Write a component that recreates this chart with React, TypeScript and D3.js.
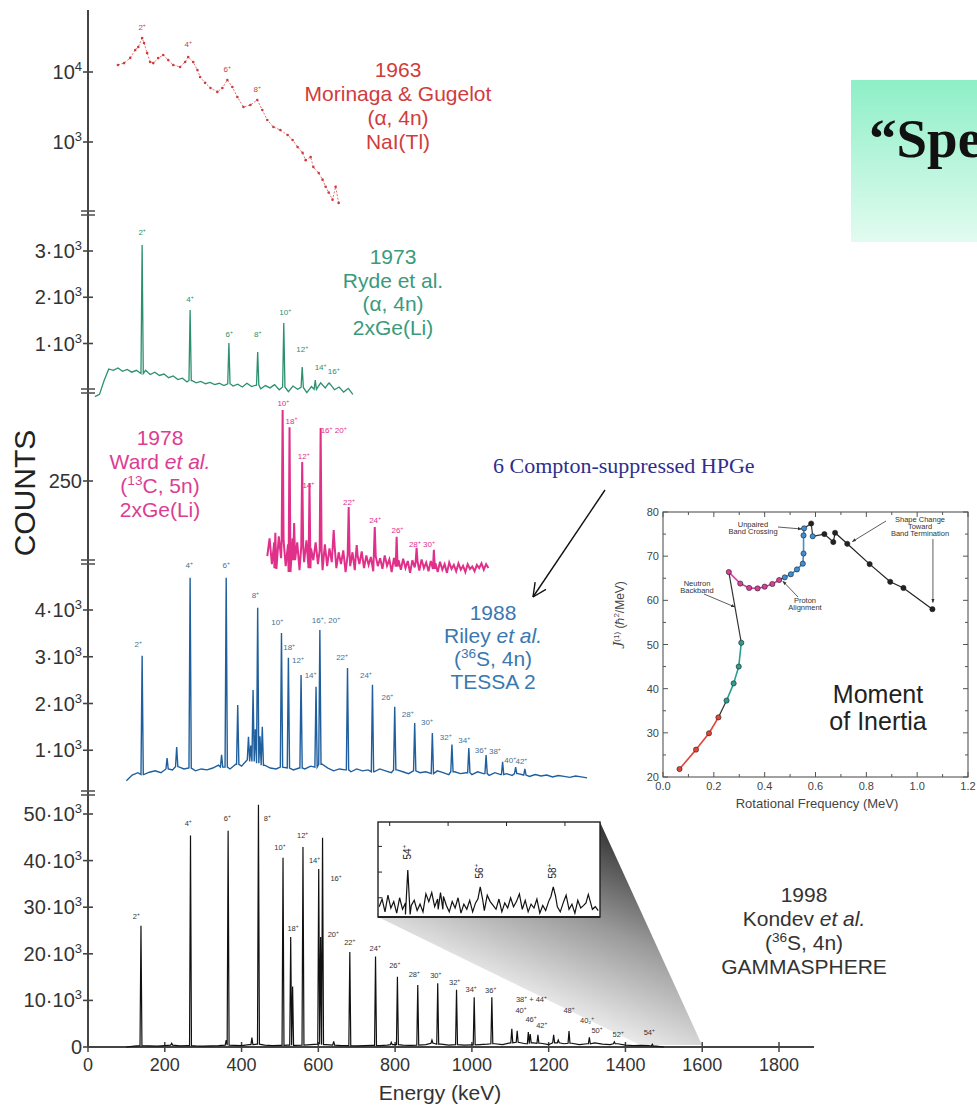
import React, { useRef, useEffect } from "react";
import * as d3 from "d3";

const WIDTH = 977;
const HEIGHT = 1107;
const SANS = "Liberation Sans, Arial, Helvetica, sans-serif";
const SERIF = "Liberation Serif, Times New Roman, serif";

// shared energy axis (keV)
const energyTicks = [0, 200, 400, 600, 800, 1000, 1200, 1400, 1600, 1800];
const breakMarks = [213, 391, 562, 793];

// 1963 Morinaga & Gugelot, NaI(Tl) - log counts
const mgEnergy = [78, 94, 110, 123, 131, 141, 146, 154, 162, 170, 183, 196, 209, 222, 240, 253, 261, 274, 285, 292, 305, 319, 337, 350, 363, 376, 389, 405, 423, 441, 454, 467, 483, 501, 520, 533, 546, 559, 567, 580, 587, 601, 611, 619, 627, 637, 645, 653];
const mgCounts = [12600, 13400, 15900, 20600, 22800, 30600, 25900, 18700, 13900, 13400, 15800, 17500, 14800, 12600, 11800, 13900, 16400, 13900, 10700, 8500, 7000, 5900, 5200, 5900, 7700, 6100, 4400, 3160, 3380, 3980, 2870, 2060, 1640, 1480, 1260, 1070, 850, 700, 550, 610, 440, 360, 290, 230, 190, 150, 230, 135];
const mgTicks = [1000, 10000];
const mgTickLabels = ["10^3", "10^4"];
const mgLabels = ["2^+", "4^+", "6^+", "8^+"];
const mgLabelE = [141, 261, 363, 441];
const mgLabelC = [39800, 22700, 10000, 5180];

// 1973 Ryde et al., 2xGe(Li)
const rydeStart = 18;
const rydeStep = 12;
const rydeBase = [-150, -100, 200, 450, 420, 470, 400, 440, 380, 420,
  350, 420, 330, 380, 310, 340, 260, 300, 220, 250,
  170, 200, 150, 180, 130, 160, 110, 140, 90, 130,
  80, 120, 60, 140, 70, 100, 20, 90, 40, 110,
  0, 60, -40, 80, 10, 50, -60, 70, 10, 150,
  40, 120, 0, 60, -50, 30, -100];
const rydePeakE = [141, 266, 367, 442, 510, 558, 592, 628];
const rydePeakC = [3130, 1724, 1011, 816, 1443, 492, 211, 146];
const rydeTicks = [1000, 2000, 3000];
const rydeTickLabels = ["1·10^3", "2·10^3", "3·10^3"];
const rydeLabels = ["2^+", "4^+", "6^+", "8^+", "10^+", "12^+", "14^+", "16^+"];
const rydeLabelE = [141, 266, 368, 442, 514, 558, 606, 640];
const rydeLabelC = [3346, 1897, 1140, 1140, 1616, 816, 427, 340];

// 1978 Ward et al., 2xGe(Li)
const wardStart = 467;
const wardStep = 6;
const wardBase = [60, 105, 40, 95, 30, 110, 55, 100, 35, 90,
  20, 105, 50, 95, 25, 85, 45, 100, 30, 80,
  50, 95, 40, 75, 25, 90, 35, 80, 45, 85,
  30, 70, 40, 75, 20, 65, 35, 70, 25, 60,
  40, 72, 30, 62, 38, 58, 22, 60, 35, 55,
  28, 62, 36, 52, 20, 56, 34, 50, 26, 54,
  30, 48, 18, 50, 32, 46, 24, 52, 30, 44,
  22, 48, 28, 42, 20, 46, 26, 40, 18, 44,
  28, 38, 22, 42, 26, 36, 20, 40, 28, 34,
  22, 38, 30, 42, 26, 40, 30];
const wardPeakE = [488, 507, 525, 537, 558, 577, 606, 640, 679, 700, 747, 804, 856, 901];
const wardPeakC = [119, 429, 386, 144, 298, 245, 384, 126, 184, 88, 134, 109, 81, 76];
const wardTicks = [250];
const wardLabels = ["10^+", "18^+", "12^+", "14^+", "16^+ 20^+", "22^+", "24^+", "26^+", "28^+ 30^+"];
const wardLabelE = [509, 530, 562, 574, 640, 680, 748, 806, 870];
const wardLabelC = [440, 395, 305, 232, 371, 189, 144, 119, 83];

// 1988 Riley et al., TESSA 2
const rileyStart = 100;
const rileyStep = 15;
const rileyBase = [350, 470, 520, 480, 530, 560, 520, 600, 580, 650,
  600, 620, 560, 600, 580, 620, 680, 640, 600, 700,
  660, 800, 760, 720, 680, 620, 600, 640, 620, 580,
  620, 600, 660, 640, 700, 620, 560, 600, 580, 540,
  600, 560, 580, 540, 600, 560, 520, 580, 540, 500,
  560, 520, 540, 500, 560, 520, 480, 540, 500, 520,
  480, 540, 500, 460, 520, 480, 500, 460, 500, 470,
  440, 480, 450, 470, 430, 460, 440, 420, 450, 430,
  410];
const rileyPeakE = [141, 206, 231, 266, 348, 360, 390, 418, 424, 430, 436, 442, 448, 454, 504, 522, 555, 594, 604, 676, 741, 799, 851, 897, 948, 992, 1037, 1080, 1114, 1138];
const rileyPeakC = [3020, 830, 1070, 4690, 900, 4690, 1970, 1290, 1100, 2290, 1450, 4050, 1300, 1500, 3510, 2980, 2610, 2360, 3570, 2760, 2400, 1930, 1580, 1370, 1120, 1050, 900, 750, 640, 600];
const rileyTicks = [1000, 2000, 3000, 4000];
const rileyTickLabels = ["1·10^3", "2·10^3", "3·10^3", "4·10^3"];
const rileyLabels = ["2^+", "4^+", "6^+", "8^+", "10^+", "18^+", "12^+", "14^+", "16^+, 20^+", "22^+", "24^+", "26^+", "28^+", "30^+", "32^+", "34^+", "36^+", "38^+", "40^+", "42^+"];
const rileyLabelE = [131, 264, 360, 436, 493, 524, 547, 580, 620, 662, 724, 780, 833, 883, 932, 980, 1023, 1060, 1100, 1129];
const rileyLabelC = [3210, 4900, 4900, 4260, 3680, 3150, 2870, 2550, 3720, 2930, 2550, 2070, 1710, 1540, 1220, 1150, 940, 920, 730, 700];

// 1998 Kondev et al., GAMMASPHERE
const kondevStart = 100;
const kondevStep = 20;
const kondevBase = [0, 200, 300, 250, 200, 300, 400, 250, 300, 250,
  200, 250, 300, 400, 350, 300, 500, 600, 400, 300,
  350, 400, 350, 400, 500, 600, 500, 400, 300, 300,
  250, 300, 350, 300, 400, 500, 400, 350, 400, 500,
  800, 600, 400, 500, 400, 450, 500, 600, 700, 500,
  900, 1000, 700, 900, 800, 500, 900, 700, 800, 500,
  700, 900, 600, 500, 700, 400, 300, 350, 300, 200,
  0];
const kondevPeakE = [138, 218, 267, 360, 365, 427, 444, 508, 528, 533, 560, 601, 606, 611, 640, 682, 749, 790, 806, 859, 896, 911, 960, 1006, 1052, 1104, 1118, 1147, 1152, 1172, 1213, 1225, 1253, 1306, 1371, 1470];
const kondevPeakC = [26000, 800, 45400, 1500, 46400, 2000, 52000, 40600, 23600, 13000, 42900, 38200, 23600, 44900, 1200, 20400, 19400, 1000, 15100, 13300, 1500, 13700, 12300, 10700, 10700, 3900, 3500, 3200, 2800, 2600, 2600, 1500, 3400, 2100, 1100, 600];
const kondevTicks = [0, 10000, 20000, 30000, 40000, 50000];
const kondevTickLabels = ["0", "10·10^3", "20·10^3", "30·10^3", "40·10^3", "50·10^3"];
const kondevLabels = ["2^+", "4^+", "6^+", "8^+", "10^+", "12^+", "14^+", "16^+", "18^+", "20^+", "22^+", "24^+", "26^+", "28^+", "30^+", "32^+", "34^+", "36^+", "38^+ + 44^+", "40^+", "46^+", "42^+", "48^+", "40₂^+", "50^+", "52^+", "54^+"];
const kondevLabelE = [126, 261, 363, 467, 500, 559, 590, 646, 534, 639, 682, 748, 799, 850, 906, 955, 998, 1049, 1155, 1128, 1154, 1182, 1253, 1300, 1326, 1381, 1462];
const kondevLabelC = [27400, 47500, 48400, 48600, 42300, 44900, 39500, 35600, 25000, 23600, 21800, 20700, 16900, 15100, 14700, 13200, 11800, 11500, 9600, 7200, 5300, 4000, 7300, 5100, 3000, 2200, 2600];

// inset: high-spin tail
const insetStart = 1382;
const insetStep = 5;
const insetBase = [40, 70, 20, 85, 35, 60, 15, 75, 30, 55,
  10, 45, 65, 25, 50, 20, 90, 60, 95, 40,
  70, 30, 80, 45, 20, 60, 35, 75, 15, 50,
  30, 65, 20, 55, 40, 70, 25, 85, 60, 45,
  30, 70, 20, 55, 35, 75, 40, 60, 90, 30,
  65, 20, 50, 35, 70, 15, 45, 25, 60, 30,
  80, 40, 20, 55, 85, 30, 50, 15, 65, 35,
  45, 20, 55, 30, 40, 25];
const insetPeakE = [1431, 1487, 1555, 1680, 1740];
const insetPeakC = [183, 95, 117, 117, 88];
const insetTicksX = [1400, 1500, 1600, 1700];
const insetTicksY = [75, 175, 275];
const insetLabels = ["54^+", "56^+", "58^+"];
const insetLabelE = [1431, 1555, 1680];
const insetLabelC = [253, 179, 179];

// moment of inertia
const moiFreq = [0.065, 0.13, 0.181, 0.218, 0.25, 0.278, 0.298, 0.308, 0.259, 0.304, 0.339, 0.372, 0.4, 0.43, 0.457, 0.479, 0.503, 0.527, 0.55, 0.553, 0.553, 0.555, 0.583, 0.589, 0.635, 0.67, 0.677, 0.725, 0.813, 0.894, 0.946, 1.06];
const moiJ = [21.8, 26.2, 29.9, 33.5, 37.3, 41.2, 45.0, 50.4, 66.4, 63.8, 62.8, 62.7, 63.1, 63.7, 64.6, 65.2, 65.9, 67.0, 68.3, 70.6, 74.7, 76.3, 77.4, 74.5, 75.0, 73.2, 75.3, 72.8, 68.2, 64.2, 62.8, 58.0];
const moiBand = ["r", "r", "r", "r", "t", "t", "t", "t", "m", "m", "m", "m", "m", "m", "m", "b", "b", "b", "b", "b", "b", "b", "k", "b", "k", "k", "k", "k", "k", "k", "k", "k"];
const moiXTicks = [0, 0.2, 0.4, 0.6, 0.8, 1.0, 1.2];
const moiYTicks = [20, 30, 40, 50, 60, 70, 80];

const bandColor: any = { r: "#e0453a", t: "#2a9d8f", m: "#d6409a", b: "#3b8fd6", k: "#222" };

function buildSpectrum(start: number, step: number, base: number[], peakE: number[], peakC: number[], hw: number) {
  const pts: [number, number][] = [];
  base.forEach((b, i) => {
    const e = start + i * step;
    if (peakE.some((p) => Math.abs(p - e) < hw)) return;
    pts.push([e, b]);
  });
  peakE.forEach((p, i) => {
    const idx = Math.max(0, Math.min(base.length - 1, Math.round((p - start) / step)));
    const b = base[idx];
    pts.push([p - hw, b], [p, peakC[i]], [p + hw, b]);
  });
  return pts.sort((a, b) => a[0] - b[0]);
}

// ^{..} or ^x = superscript, _{..} = italic
function rich(t: any, str: string, fs: number) {
  const re = /\^\{([^}]*)\}|\^(.)|_\{([^}]*)\}/g;
  let last = 0;
  let up = false;
  let m: any;
  const plain = (s: string, italic = false) => {
    const ts = t.append("tspan").text(s);
    if (italic) ts.attr("font-style", "italic");
    if (up) {
      ts.attr("dy", fs * 0.4);
      up = false;
    }
  };
  while ((m = re.exec(str)) !== null) {
    if (m.index > last) plain(str.slice(last, m.index));
    if (m[3] !== undefined) plain(m[3], true);
    else {
      const s = m[1] !== undefined ? m[1] : m[2];
      const ts = t.append("tspan").text(s).attr("font-size", fs * 0.65);
      if (!up) ts.attr("dy", -fs * 0.4);
      up = true;
    }
    last = re.lastIndex;
  }
  if (last < str.length) plain(str.slice(last));
}

export default function App() {
  const svgRef = useRef<SVGSVGElement>(null);

  useEffect(() => {
    const svg = d3.select(svgRef.current);
    svg.selectAll("*").remove();

    const xE = d3.scaleLinear().domain([0, 1800]).range([88, 779]);
    const yMg = d3.scaleLog().domain([1000, 10000]).range([142, 72]);
    const yRyde = d3.scaleLinear().domain([-200, 3000]).range([399, 251]);
    const yWard = d3.scaleLinear().domain([0, 250]).range([580, 481]);
    const yRiley = d3.scaleLinear().domain([0, 4000]).range([797, 610]);
    const yKondev = d3.scaleLinear().domain([0, 50000]).range([1047, 814]);

    const defs = svg.append("defs");
    const grad = defs.append("linearGradient").attr("id", "wedge")
      .attr("gradientUnits", "userSpaceOnUse")
      .attr("x1", 620).attr("y1", 840).attr("x2", 545).attr("y2", 1020);
    grad.append("stop").attr("offset", 0).attr("stop-color", "#3a3a3a");
    grad.append("stop").attr("offset", 0.45).attr("stop-color", "#9a9a9a");
    grad.append("stop").attr("offset", 1).attr("stop-color", "#f6f6f6");
    const mint = defs.append("linearGradient").attr("id", "mint")
      .attr("x1", 0).attr("y1", 0).attr("x2", 0).attr("y2", 1);
    mint.append("stop").attr("offset", 0).attr("stop-color", "#8eefc7");
    mint.append("stop").attr("offset", 1).attr("stop-color", "#e2fbf0");
    defs.append("marker").attr("id", "tip").attr("viewBox", "0 0 10 10")
      .attr("refX", 9).attr("refY", 5).attr("markerWidth", 5).attr("markerHeight", 5)
      .attr("orient", "auto")
      .append("path").attr("d", "M0,1 L10,5 L0,9 z").attr("fill", "#333");

    // title box (slide heading, cut by the page edge as in the source)
    svg.append("rect").attr("x", 851).attr("y", 80).attr("width", 140).attr("height", 162)
      .attr("fill", "url(#mint)");
    svg.append("text").attr("x", 869).attr("y", 157).attr("font-family", SERIF)
      .attr("font-weight", "bold").attr("font-size", 55).attr("fill", "#111").text("“Spe");

    // zoom wedge
    svg.append("polygon").attr("points", "378,917 600,822 702,1045 640,1045").attr("fill", "url(#wedge)");

    // y axis + breaks
    svg.append("line").attr("x1", 88).attr("x2", 88).attr("y1", 10).attr("y2", 1047)
      .attr("stroke", "#444").attr("stroke-width", 2);
    breakMarks.forEach((y) => {
      [-2, 2].forEach((o) => {
        svg.append("line").attr("x1", 81).attr("x2", 95).attr("y1", y + o).attr("y2", y + o)
          .attr("stroke", "#555").attr("stroke-width", 1.6);
      });
    });

    const yTicks = (scale: any, ticks: number[], labels: string[]) => {
      ticks.forEach((v, i) => {
        const y = scale(v);
        svg.append("line").attr("x1", 83).attr("x2", 93).attr("y1", y).attr("y2", y)
          .attr("stroke", "#444").attr("stroke-width", 1.6);
        const t = svg.append("text").attr("x", 82).attr("y", y + 7).attr("text-anchor", "end")
          .attr("font-family", SANS).attr("font-size", 20).attr("fill", "#333");
        rich(t, labels[i], 20);
      });
    };
    yTicks(yMg, mgTicks, mgTickLabels);
    yTicks(yRyde, rydeTicks, rydeTickLabels);
    yTicks(yWard, wardTicks, ["250"]);
    yTicks(yRiley, rileyTicks, rileyTickLabels);
    yTicks(yKondev, kondevTicks, kondevTickLabels);

    // x axis
    svg.append("line").attr("x1", 88).attr("x2", 814).attr("y1", 1047).attr("y2", 1047)
      .attr("stroke", "#444").attr("stroke-width", 2);
    energyTicks.forEach((e) => {
      svg.append("line").attr("x1", xE(e)).attr("x2", xE(e)).attr("y1", 1042).attr("y2", 1052)
        .attr("stroke", "#444").attr("stroke-width", 1.5);
      svg.append("text").attr("x", xE(e)).attr("y", 1071).attr("text-anchor", "middle")
        .attr("font-family", SANS).attr("font-size", 18).attr("fill", "#333").text(e);
    });
    svg.append("text").attr("x", 440).attr("y", 1100).attr("text-anchor", "middle")
      .attr("font-family", SANS).attr("font-size", 21).attr("fill", "#333").text("Energy (keV)");
    svg.append("text").attr("transform", "translate(35,493) rotate(-90)").attr("text-anchor", "middle")
      .attr("font-family", SANS).attr("font-size", 30).attr("fill", "#222").text("COUNTS");

    const peakLabels = (labels: string[], es: number[], cs: number[], yScale: any, color: string, fs = 8) => {
      labels.forEach((l, i) => {
        const t = svg.append("text").attr("x", xE(es[i])).attr("y", yScale(cs[i]))
          .attr("text-anchor", "middle").attr("font-family", SANS).attr("font-size", fs).attr("fill", color);
        rich(t, l, fs);
      });
    };

    const textBlock = (lines: string[], x: number, y0: number, dy: number, color: string, fs: number) => {
      lines.forEach((l, i) => {
        const t = svg.append("text").attr("x", x).attr("y", y0 + i * dy).attr("text-anchor", "middle")
          .attr("font-family", SANS).attr("font-size", fs).attr("fill", color);
        rich(t, l, fs);
      });
    };

    // 1963
    const red = "#cf3b3b";
    const mgPts = mgEnergy.map((e, i) => [e, mgCounts[i]] as [number, number]);
    svg.append("path").datum(mgPts)
      .attr("d", d3.line<[number, number]>().x((d) => xE(d[0])).y((d) => yMg(d[1])))
      .attr("fill", "none").attr("stroke", red).attr("stroke-width", 0.9)
      .attr("stroke-dasharray", "2 1.6").attr("opacity", 0.8);
    svg.append("g").selectAll("circle").data(mgPts).join("circle")
      .attr("cx", (d) => xE(d[0])).attr("cy", (d) => yMg(d[1])).attr("r", 1.3).attr("fill", red);
    peakLabels(mgLabels, mgLabelE, mgLabelC, yMg, red, 8);
    textBlock(["1963", "Morinaga & Gugelot", "(α, 4n)", "NaI(Tl)"], 398, 77, 24, "#d03c3c", 21);

    // 1973
    const green = "#2b8f70";
    svg.append("path").datum(buildSpectrum(rydeStart, rydeStep, rydeBase, rydePeakE, rydePeakC, 3))
      .attr("d", d3.line<[number, number]>().x((d) => xE(d[0])).y((d) => yRyde(d[1])))
      .attr("fill", "none").attr("stroke", green).attr("stroke-width", 1.3);
    peakLabels(rydeLabels, rydeLabelE, rydeLabelC, yRyde, green, 8);
    textBlock(["1973", "Ryde et al.", "(α, 4n)", "2xGe(Li)"], 393, 264, 23.5, "#3a9a7c", 21);

    // 1978
    const pink = "#e0308a";
    svg.append("path").datum(buildSpectrum(wardStart, wardStep, wardBase, wardPeakE, wardPeakC, 2.5))
      .attr("d", d3.line<[number, number]>().x((d) => xE(d[0])).y((d) => yWard(d[1])))
      .attr("fill", "none").attr("stroke", pink).attr("stroke-width", 2);
    peakLabels(wardLabels, wardLabelE, wardLabelC, yWard, pink, 8);
    textBlock(["1978", "Ward _{et al.}", "(^{13}C, 5n)", "2xGe(Li)"], 160, 445, 24, "#dc3d92", 21);

    // 1988
    const blue = "#1f5f9e";
    svg.append("path").datum(buildSpectrum(rileyStart, rileyStep, rileyBase, rileyPeakE, rileyPeakC, 3))
      .attr("d", d3.line<[number, number]>().x((d) => xE(d[0])).y((d) => yRiley(d[1])))
      .attr("fill", "none").attr("stroke", blue).attr("stroke-width", 1.4);
    peakLabels(rileyLabels, rileyLabelE, rileyLabelC, yRiley, "#4a6f96", 8);
    textBlock(["1988", "Riley _{et al.}", "(^{36}S, 4n)", "TESSA 2"], 493, 620, 23, "#3a78b0", 21);

    // 1998
    svg.append("path").datum(buildSpectrum(kondevStart, kondevStep, kondevBase, kondevPeakE, kondevPeakC, 2.5))
      .attr("d", d3.line<[number, number]>().x((d) => xE(d[0])).y((d) => yKondev(d[1])))
      .attr("fill", "none").attr("stroke", "#111").attr("stroke-width", 1.2);
    peakLabels(kondevLabels, kondevLabelE, kondevLabelC, yKondev, "#333", 7.5);
    textBlock(["1998", "Kondev _{et al.}", "(^{36}S, 4n)", "GAMMASPHERE"], 804, 902, 24, "#333", 21);

    // inset
    const xIn = d3.scaleLinear().domain([1380, 1760]).range([378, 600]);
    const yIn = d3.scaleLinear().domain([0, 370]).range([917, 822]);
    svg.append("rect").attr("x", 378).attr("y", 822).attr("width", 222).attr("height", 95)
      .attr("fill", "#fff").attr("stroke", "#222").attr("stroke-width", 1.4);
    insetTicksX.forEach((e) => {
      svg.append("line").attr("x1", xIn(e)).attr("x2", xIn(e)).attr("y1", 822).attr("y2", 826)
        .attr("stroke", "#222");
    });
    insetTicksY.forEach((c) => {
      svg.append("line").attr("x1", 378).attr("x2", 382).attr("y1", yIn(c)).attr("y2", yIn(c))
        .attr("stroke", "#222");
    });
    svg.append("path").datum(buildSpectrum(insetStart, insetStep, insetBase, insetPeakE, insetPeakC, 4))
      .attr("d", d3.line<[number, number]>().x((d) => xIn(d[0])).y((d) => yIn(d[1])))
      .attr("fill", "none").attr("stroke", "#111").attr("stroke-width", 1.2);
    svg.append("line").attr("x1", 378).attr("x2", 600).attr("y1", 917).attr("y2", 917)
      .attr("stroke", "#222").attr("stroke-width", 1.8);
    insetLabels.forEach((l, i) => {
      const t = svg.append("text")
        .attr("transform", `translate(${xIn(insetLabelE[i]) + 3},${yIn(insetLabelC[i])}) rotate(-90)`)
        .attr("text-anchor", "middle").attr("font-family", SANS).attr("font-size", 10).attr("fill", "#222");
      rich(t, l, 10);
    });

    // annotation arrow
    const ax1 = 605, ay1 = 490, ax2 = 533, ay2 = 597;
    svg.append("line").attr("x1", ax1).attr("y1", ay1).attr("x2", ax2).attr("y2", ay2)
      .attr("stroke", "#111").attr("stroke-width", 1.4);
    const ang = Math.atan2(ay1 - ay2, ax1 - ax2);
    [-0.45, 0.45].forEach((da) => {
      svg.append("line").attr("x1", ax2).attr("y1", ay2)
        .attr("x2", ax2 + 15 * Math.cos(ang + da)).attr("y2", ay2 + 15 * Math.sin(ang + da))
        .attr("stroke", "#111").attr("stroke-width", 1.4);
    });
    svg.append("text").attr("x", 493).attr("y", 473)
      .attr("font-family", SERIF).attr("font-size", 22).attr("fill", "#2e2e8c")
      .text("6 Compton-suppressed HPGe");

    // moment of inertia plot
    const xM = d3.scaleLinear().domain([0, 1.2]).range([663, 968]);
    const yM = d3.scaleLinear().domain([20, 80]).range([777, 512]);
    const g = svg.append("g");
    g.append("rect").attr("x", 663).attr("y", 512).attr("width", 305).attr("height", 265)
      .attr("fill", "#fff").attr("stroke", "#555").attr("stroke-width", 1.1);
    d3.range(0, 1.21, 0.1).forEach((f) => {
      const len = Math.round(f * 10) % 2 === 0 ? 5 : 3;
      g.append("line").attr("x1", xM(f)).attr("x2", xM(f)).attr("y1", 777).attr("y2", 777 - len).attr("stroke", "#555");
      g.append("line").attr("x1", xM(f)).attr("x2", xM(f)).attr("y1", 512).attr("y2", 512 + len).attr("stroke", "#555");
    });
    d3.range(20, 81, 5).forEach((v) => {
      const len = v % 10 === 0 ? 5 : 3;
      g.append("line").attr("x1", 663).attr("x2", 663 + len).attr("y1", yM(v)).attr("y2", yM(v)).attr("stroke", "#555");
      g.append("line").attr("x1", 968).attr("x2", 968 - len).attr("y1", yM(v)).attr("y2", yM(v)).attr("stroke", "#555");
    });
    moiXTicks.forEach((f) => {
      g.append("text").attr("x", xM(f)).attr("y", 790).attr("text-anchor", "middle")
        .attr("font-family", SANS).attr("font-size", 11).attr("fill", "#444").text(f.toFixed(1));
    });
    moiYTicks.forEach((v) => {
      g.append("text").attr("x", 659).attr("y", yM(v) + 4).attr("text-anchor", "end")
        .attr("font-family", SANS).attr("font-size", 11).attr("fill", "#444").text(v);
    });
    g.append("text").attr("x", 817).attr("y", 808).attr("text-anchor", "middle")
      .attr("font-family", SANS).attr("font-size", 13).attr("fill", "#444").text("Rotational Frequency (MeV)");
    const yl = g.append("text").attr("transform", "translate(624,615) rotate(-90)").attr("text-anchor", "middle")
      .attr("font-family", SANS).attr("font-size", 12).attr("fill", "#444");
    yl.append("tspan").attr("font-family", SERIF).attr("font-style", "italic").attr("font-size", 16).text("J");
    yl.append("tspan").attr("font-size", 8).attr("dy", -5).text("(1)");
    yl.append("tspan").attr("dy", 5).text("   (ℏ");
    yl.append("tspan").attr("font-size", 8).attr("dy", -5).text("2");
    yl.append("tspan").attr("dy", 5).text("/MeV)");

    const pts = moiFreq.map((f, i) => [xM(f), yM(moiJ[i]), moiBand[i]] as [number, number, string]);
    for (let i = 0; i < pts.length - 1; i++) {
      const same = pts[i][2] === pts[i + 1][2];
      g.append("line").attr("x1", pts[i][0]).attr("y1", pts[i][1]).attr("x2", pts[i + 1][0]).attr("y2", pts[i + 1][1])
        .attr("stroke", same ? bandColor[pts[i][2]] : "#333").attr("stroke-width", same && pts[i][2] !== "k" ? 1.6 : 1.2);
    }
    g.selectAll("circle").data(pts).join("circle")
      .attr("cx", (d) => d[0]).attr("cy", (d) => d[1]).attr("r", 2.6)
      .attr("fill", (d) => bandColor[d[2]]).attr("stroke", "#222").attr("stroke-width", 0.6);

    const note = (lines: string[], x: number, y: number, fs: number) => {
      lines.forEach((l, i) => {
        g.append("text").attr("x", x).attr("y", y + i * (fs - 0.5)).attr("text-anchor", "middle")
          .attr("font-family", SANS).attr("font-size", fs).attr("fill", "#333").text(l);
      });
    };
    const arrow = (x1: number, y1: number, x2: number, y2: number) => {
      g.append("line").attr("x1", x1).attr("y1", y1).attr("x2", x2).attr("y2", y2)
        .attr("stroke", "#333").attr("stroke-width", 0.8).attr("marker-end", "url(#tip)");
    };
    note(["Unpaired", "Band Crossing"], 753, 527, 7.5);
    arrow(778, 527, xM(0.545), 529);
    note(["Shape Change", "Toward", "Band Termination"], 920, 522, 7.5);
    arrow(886, 521, xM(0.745), yM(73.3));
    arrow(xM(1.062), 539, xM(1.062), yM(59.5));
    note(["Neutron", "Backband"], 697, 586, 7.5);
    arrow(704, 594, xM(0.282), yM(58.5));
    note(["Proton", "Alignment"], 805, 603, 7.5);
    arrow(798, 597, xM(0.472), yM(64.3));
    g.append("text").attr("x", 878).attr("y", 703).attr("text-anchor", "middle")
      .attr("font-family", SANS).attr("font-size", 25).attr("fill", "#222").text("Moment");
    g.append("text").attr("x", 878).attr("y", 730).attr("text-anchor", "middle")
      .attr("font-family", SANS).attr("font-size", 25).attr("fill", "#222").text("of Inertia");
  }, []);

  return (
    <svg
      ref={svgRef}
      width={WIDTH}
      height={HEIGHT}
      style={{ position: "absolute", left: 0, top: 0, background: "#fff" }}
    />
  );
}
